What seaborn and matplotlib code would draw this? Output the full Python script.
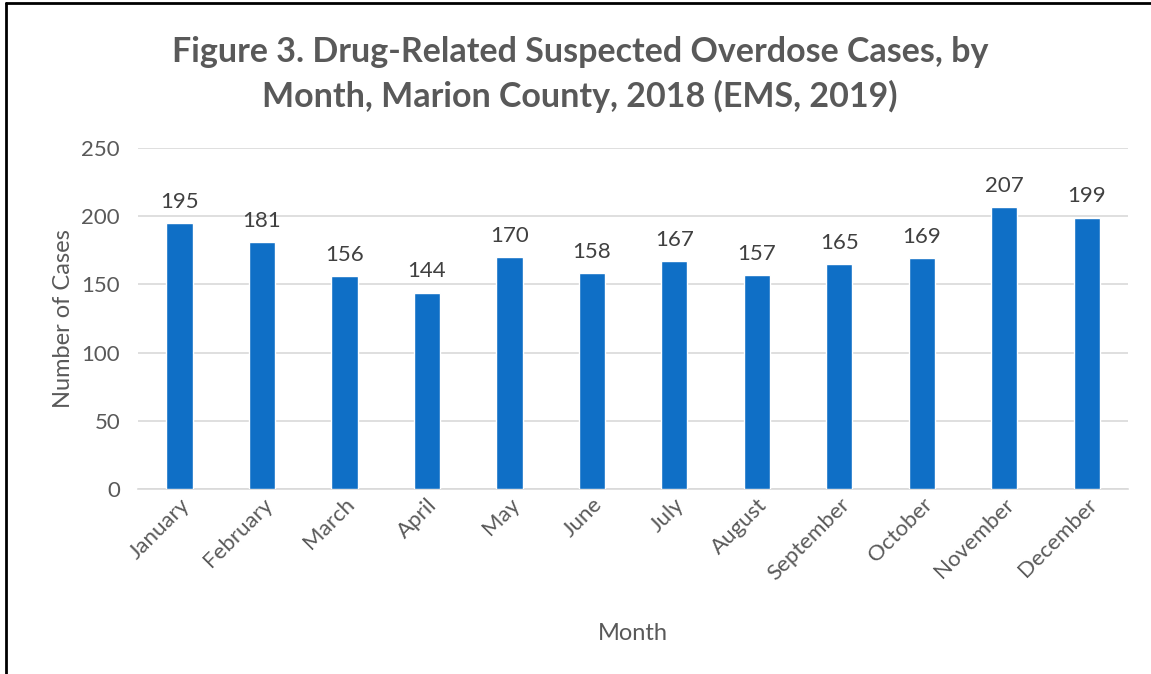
import pandas as pd
import matplotlib.pyplot as plt
import seaborn as sns
from matplotlib.lines import Line2D

# Data
months = ["January", "February", "March", "April", "May", "June",
          "July", "August", "September", "October", "November", "December"]
cases = [195, 181, 156, 144, 170, 158, 167, 157, 165, 169, 207, 199]

df = pd.DataFrame({"Month": months, "Cases": cases})

sns.set_theme(style="white")
plt.rcParams['font.family'] = ['Lato', 'DejaVu Sans']
gray = '#595959'

fig = plt.figure(figsize=(11.51, 6.74), dpi=100)
ax = fig.add_axes([0.12, 0.2745, 0.86, 0.5059])

sns.barplot(data=df, x="Month", y="Cases", color='#0F6FC6', width=0.32,
            saturation=1, ax=ax, zorder=3)

ax.set_ylim(0, 250)
ax.set_yticks(range(0, 251, 50))
ax.grid(axis='y', color='#D9D9D9', linewidth=1.2, zorder=0)
for s in ['top', 'right', 'left']:
    ax.spines[s].set_visible(False)
ax.spines['bottom'].set_color('#D9D9D9')
ax.spines['bottom'].set_linewidth(1.2)

ax.tick_params(axis='y', colors=gray, labelsize=16, length=0, pad=13)
ax.tick_params(axis='x', colors=gray, labelsize=16, length=0, pad=4)
plt.setp(ax.get_xticklabels(), rotation=45, ha='right', rotation_mode='anchor')

for c in ax.containers:
    ax.bar_label(c, labels=[str(v) for v in cases], padding=8, fontsize=16, color='#404040')

ax.set_xlabel("Month", fontsize=17, color=gray, labelpad=28)
ax.set_ylabel("Number of Cases", fontsize=17, color=gray, labelpad=5)

fig.text(0.504, 0.889, "Figure 3. Drug-Related Suspected Overdose Cases, by\nMonth, Marion County, 2018 (EMS, 2019)",
         ha='center', va='center', fontsize=24.5, fontweight='bold', color=gray, linespacing=1.45)

# frame lines at left and top
fig.add_artist(Line2D([0.005, 0.005], [0, 0.995], transform=fig.transFigure, color='black', linewidth=2))
fig.add_artist(Line2D([0.005, 1.0], [0.995, 0.995], transform=fig.transFigure, color='black', linewidth=2))

fig.savefig("out.png", dpi=100)
